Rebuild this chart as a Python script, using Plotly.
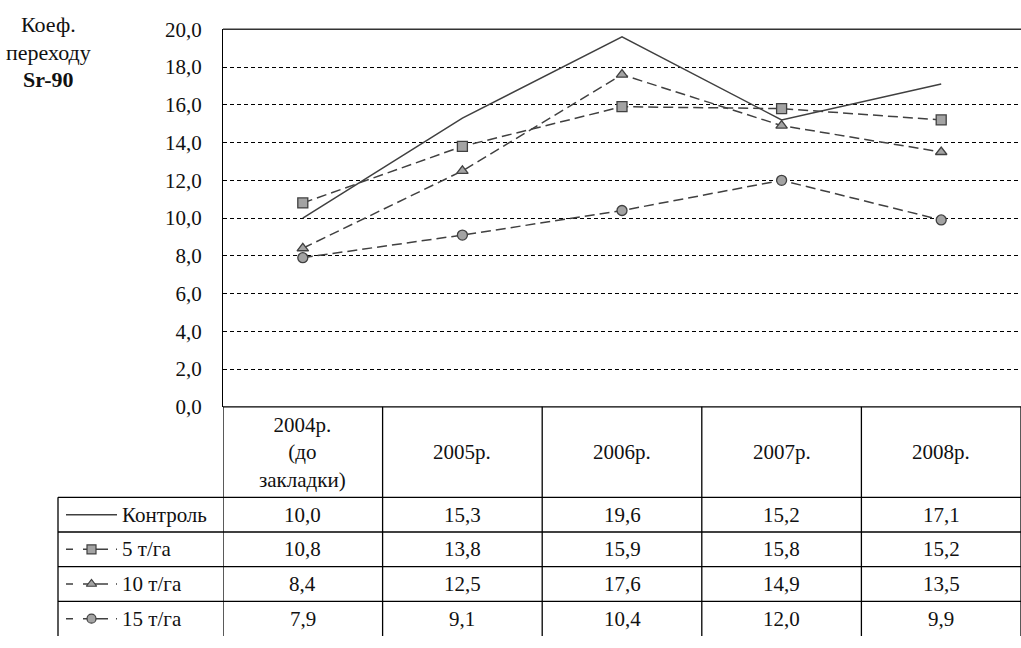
import plotly.graph_objects as go

# --- data -------------------------------------------------------------
categories = ["2004р.\n(до\nзакладки)", "2005р.", "2006р.", "2007р.", "2008р."]
series_names = ["Контроль", "5 т/га", "10 т/га", "15 т/га"]
control = [10.0, 15.3, 19.6, 15.2, 17.1]
dose_5 = [10.8, 13.8, 15.9, 15.8, 15.2]
dose_10 = [8.4, 12.5, 17.6, 14.9, 13.5]
dose_15 = [7.9, 9.1, 10.4, 12.0, 9.9]
y_ticks = [0, 2, 4, 6, 8, 10, 12, 14, 16, 18, 20]
y_title = ["Коеф.", "переходу", "<b>Sr-90</b>"]

# --- geometry (pixels of a 1021x648 canvas) ---------------------------
W, H = 1021, 648
PLOT_L, PLOT_T, PLOT_B = 223, 18, 410
TABLE_L = 58
HEADER_B = 504
ROW_H = 36

def px(x):
    return x / W

def py(y):
    return 1 - y / H

FONT = "Times New Roman, Liberation Serif, serif"
FS = 21
INK = "#111111"
LINE = "#404040"
FILL = "#a3a3a3"

def fmt(v):
    return f"{v:.1f}".replace(".", ",")

series = [control, dose_5, dose_10, dose_15]
styles = [
    dict(dash="solid", symbol=None),
    dict(dash="10px,5px", symbol="square"),
    dict(dash="10px,5px", symbol="triangle-up"),
    dict(dash="10px,5px", symbol="circle"),
]

xs = list(range(len(categories)))
fig = go.Figure()

for name, vals, st in zip(series_names, series, styles):
    mode = "lines" if st["symbol"] is None else "lines+markers"
    fig.add_trace(go.Scatter(
        x=xs, y=vals, name=name, mode=mode,
        line=dict(color=LINE, width=1.5, dash=st["dash"]),
        marker=dict(symbol=st["symbol"] or "circle", size=10, color=FILL,
                    line=dict(color=LINE, width=1.3)),
        xaxis="x", yaxis="y", showlegend=False, cliponaxis=False,
    ))

# legend glyphs inside the first column of the data table
n_rows = len(series_names)
row_centers = [ROW_H * i + ROW_H / 2 for i in range(n_rows)]
for rc, st in zip(row_centers, styles):
    fig.add_trace(go.Scatter(
        x=[0, 1], y=[rc, rc], mode="lines",
        line=dict(color=LINE, width=1.5,
                  dash="7px,10px,25px,8px,2px,50px" if st["symbol"] else "solid"),
        xaxis="x2", yaxis="y2", showlegend=False, hoverinfo="skip",
    ))
    if st["symbol"]:
        fig.add_trace(go.Scatter(
            x=[0.5], y=[rc], mode="markers",
            marker=dict(symbol=st["symbol"], size=9, color=FILL,
                        line=dict(color=LINE, width=1.2)),
            xaxis="x2", yaxis="y2", showlegend=False, hoverinfo="skip",
        ))

shapes = []
black = dict(color="#000000", width=1.3)
# top border of the plot frame
shapes.append(dict(type="line", xref="paper", yref="paper",
                   x0=px(PLOT_L), x1=1, y0=py(PLOT_T), y1=py(PLOT_T),
                   line=dict(color="#333333", width=1.5)))
# table horizontal rules
for y in [PLOT_B, HEADER_B]:
    shapes.append(dict(type="line", xref="paper", yref="paper",
                       x0=px(PLOT_L), x1=1, y0=py(y), y1=py(y), line=black))
for i in range(1, n_rows):
    y = HEADER_B + ROW_H * i
    shapes.append(dict(type="line", xref="paper", yref="paper",
                       x0=px(TABLE_L), x1=1, y0=py(y), y1=py(y), line=black))
shapes.append(dict(type="line", xref="paper", yref="paper",
                   x0=px(TABLE_L), x1=px(PLOT_L), y0=py(HEADER_B), y1=py(HEADER_B),
                   line=black))
# table vertical rules at category boundaries
for i in range(len(categories) + 1):
    shapes.append(dict(type="line", xref="x", yref="paper",
                       x0=i - 0.5, x1=i - 0.5, y0=py(PLOT_B), y1=0, line=black))
shapes.append(dict(type="line", xref="paper", yref="paper",
                   x0=px(TABLE_L), x1=px(TABLE_L), y0=py(HEADER_B), y1=0, line=black))

annotations = []
# axis title in the upper-left corner, one line per entry
for txt, yc in zip(y_title, [13, 42, 70]):
    annotations.append(dict(
        text=txt, xref="paper", yref="paper",
        x=px(48), y=py(yc), xanchor="center", yanchor="middle", showarrow=False,
        font=dict(family=FONT, size=22, color=INK),
    ))
# header row with category labels
for i, c in enumerate(categories):
    annotations.append(dict(
        text=c.replace("\n", "<br>"), xref="x", yref="paper",
        x=i, y=py((PLOT_B + HEADER_B) / 2), xanchor="center", yanchor="middle",
        showarrow=False, align="center",
        font=dict(family=FONT, size=FS, color=INK),
    ))
# series names and values
for r, (name, vals) in enumerate(zip(series_names, series)):
    yc = py(HEADER_B + row_centers[r])
    annotations.append(dict(
        text=name, xref="paper", yref="paper", x=px(120), y=yc,
        xanchor="left", yanchor="middle", showarrow=False,
        font=dict(family=FONT, size=FS, color=INK),
    ))
    for i, v in enumerate(vals):
        annotations.append(dict(
            text=fmt(v), xref="x", yref="paper", x=i, y=yc,
            xanchor="center", yanchor="middle", showarrow=False,
            font=dict(family=FONT, size=FS, color=INK),
        ))

fig.update_layout(
    width=W, height=H,
    margin=dict(l=0, r=0, t=0, b=0),
    paper_bgcolor="white", plot_bgcolor="white",
    font=dict(family=FONT, size=FS, color=INK),
    xaxis=dict(domain=[px(PLOT_L), 1], range=[-0.5, len(categories) - 0.5],
               showticklabels=False, showgrid=False, zeroline=False,
               showline=False, fixedrange=True),
    yaxis=dict(domain=[py(PLOT_B), py(PLOT_T)], range=[0, 20],
               tickvals=y_ticks, ticktext=[fmt(t) for t in y_ticks],
               tickfont=dict(family=FONT, size=FS, color=INK),
               showgrid=True, gridcolor="#000000", gridwidth=1,
               griddash="4px,3px", zeroline=False,
               showline=True, linecolor="#000000", linewidth=1.3,
               ticks="", ticklabelstandoff=16, fixedrange=True),
    xaxis2=dict(domain=[px(66), px(117)], range=[0, 1], visible=False,
                anchor="y2", fixedrange=True),
    yaxis2=dict(domain=[0, py(HEADER_B)], range=[ROW_H * n_rows, 0],
                visible=False, anchor="x2", fixedrange=True),
    shapes=shapes,
    annotations=annotations,
)

fig.write_html("out.html")
